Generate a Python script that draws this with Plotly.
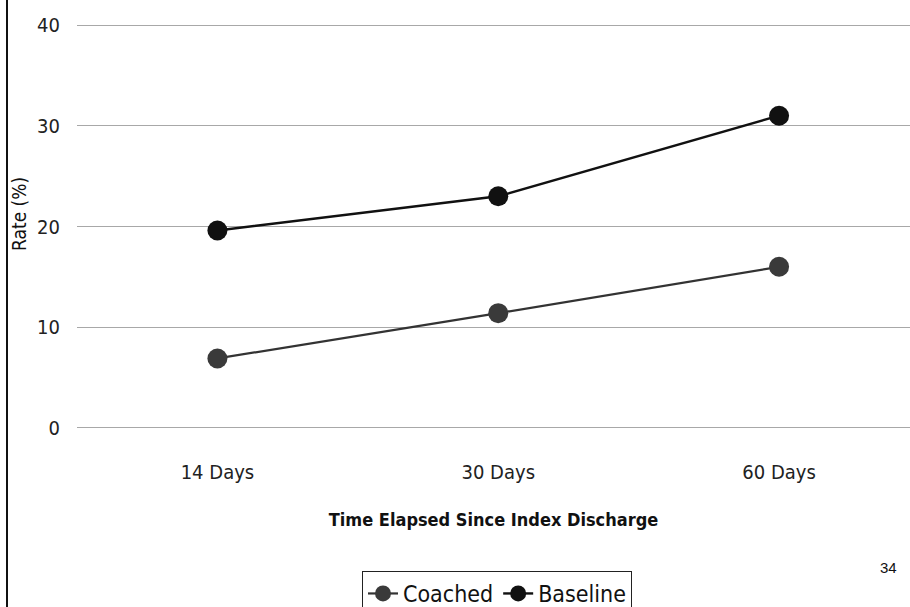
import plotly.graph_objects as go

# Readmission rates by time since index discharge
categories = ["14 Days", "30 Days", "60 Days"]
coached = [6.9, 11.4, 16.0]
baseline = [19.6, 23.0, 31.0]
y_ticks = [0, 10, 20, 30, 40]

W, H = 910, 607
ML, MR, MT, MB = 77, 0, 20, 174
PW, PH = W - ML - MR, H - MT - MB

NARROW = "Liberation Sans Narrow, DejaVu Sans Condensed, Arial Narrow, sans-serif"


def px_to_paper_x(px):
    return (px - ML) / PW


def px_to_paper_y(py):
    return (H - MB - py) / PH


fig = go.Figure()
fig.add_trace(go.Scatter(
    x=categories, y=coached, name="Coached", mode="lines+markers",
    line=dict(color="#333333", width=2.2),
    marker=dict(color="#3a3a3a", size=20, symbol="circle"),
))
fig.add_trace(go.Scatter(
    x=categories, y=baseline, name="Baseline", mode="lines+markers",
    line=dict(color="#111111", width=2.4),
    marker=dict(color="#111111", size=20, symbol="circle"),
))

fig.update_layout(
    width=W, height=H,
    margin=dict(l=ML, r=MR, t=MT, b=MB, autoexpand=False),
    paper_bgcolor="white", plot_bgcolor="white",
    font=dict(family=NARROW, color="#111111"),
    showlegend=True,
    legend=dict(
        orientation="h", x=px_to_paper_x(497), xanchor="center",
        y=px_to_paper_y(571), yanchor="top",
        bordercolor="#222222", borderwidth=1, bgcolor="white",
        font=dict(size=23, family=NARROW, color="#111111"),
        itemwidth=30, tracegroupgap=0,
    ),
    xaxis=dict(
        type="category", range=[-0.5, (910 - 217) / 281],
        showgrid=False, zeroline=False, showline=False, ticks="",
        tickfont=dict(size=20, family=NARROW, color="#222222"),
        ticklabelstandoff=25,
        title=dict(text="Time Elapsed Since Index Discharge",
                   font=dict(size=18, family=NARROW, color="#111111", weight=600),
                   standoff=30),
    ),
    yaxis=dict(
        range=[-0.5, 40.5], tickvals=y_ticks,
        showgrid=True, gridcolor="#a8a8a8", gridwidth=1,
        zeroline=False, showline=False, ticks="",
        tickfont=dict(size=20, family=NARROW, color="#222222"),
        ticklabelstandoff=16,
    ),
    shapes=[dict(
        type="line", xref="paper", yref="paper",
        x0=px_to_paper_x(7), x1=px_to_paper_x(7),
        y0=px_to_paper_y(H + 2), y1=px_to_paper_y(-2),
        line=dict(color="#111111", width=2),
    )],
    annotations=[
        dict(text="Rate (%)", textangle=-90, xref="paper", yref="paper",
             x=px_to_paper_x(19), y=px_to_paper_y(214), showarrow=False,
             font=dict(size=19, family=NARROW, color="#111111"),
             xanchor="center", yanchor="middle"),
        dict(text="34", xref="paper", yref="paper",
             x=px_to_paper_x(888), y=px_to_paper_y(567), showarrow=False,
             font=dict(size=15, family="Liberation Sans, Arial, sans-serif", color="#111111"),
             xanchor="center", yanchor="middle"),
    ],
)

fig.write_html("out.html")
